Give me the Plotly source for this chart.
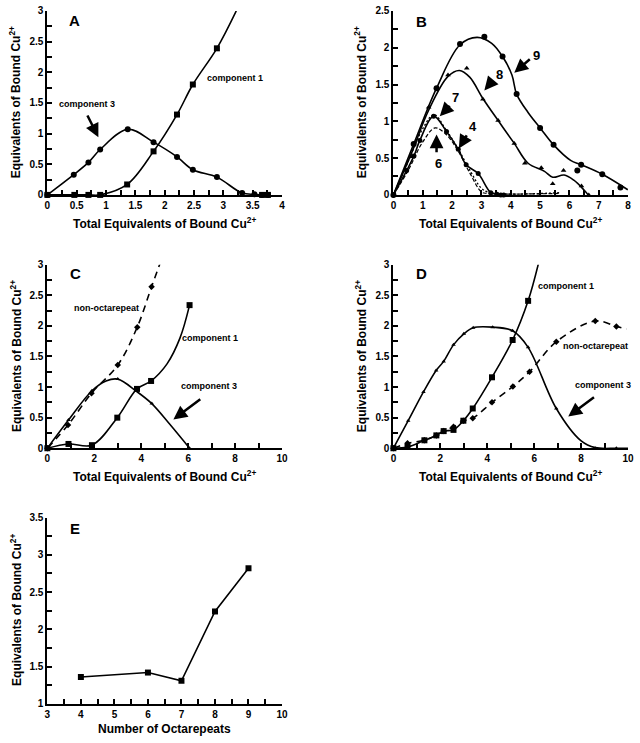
import plotly.graph_objects as go
from plotly.subplots import make_subplots

# ---------- panel A ----------
A_c3_x = [0, 0.45, 0.70, 0.90, 1.37, 1.81, 2.21, 2.48, 2.89, 3.32, 3.53, 3.66, 3.76]
A_c3_y = [0, 0.33, 0.53, 0.74, 1.07, 0.86, 0.62, 0.41, 0.29, 0.03, 0.01, 0, 0]
A_c1_x = [0, 0.46, 0.70, 0.90, 1.36, 1.81, 2.21, 2.48, 2.89, 3.66, 3.76]
A_c1_y = [0, 0, 0, 0, 0.17, 0.71, 1.31, 1.80, 2.39, 0, 0]
A_c1_line_x = [0, 0.46, 0.70, 0.90, 1.36, 1.81, 2.21, 2.48, 2.89, 3.22]
A_c1_line_y = [0, 0, 0, 0, 0.17, 0.71, 1.31, 1.80, 2.39, 3.0]

# ---------- panel B ----------
B9_x = [0, 0.69, 1.47, 2.27, 3.1, 3.72, 4.2, 5.0, 5.46, 6.27, 6.4, 7.12, 7.74]
B9_y = [0, 0.69, 1.45, 2.05, 2.15, 1.88, 1.37, 0.91, 0.68, 0.33, 0.41, 0.28, 0.10]
B9_line_x = [0, 0.69, 1.47, 2.27, 2.85, 3.35, 3.72, 4.04, 4.2, 4.59, 5.0, 5.46, 6.04, 6.4, 7.12, 7.99]
B9_line_y = [0, 0.69, 1.45, 2.04, 2.14, 2.06, 1.88, 1.63, 1.37, 1.12, 0.91, 0.68, 0.47, 0.41, 0.28, 0.07]
B8_x = [0, 0.6, 1.2, 1.86, 2.5, 3.05, 3.57, 4.12, 4.48, 5.04, 5.43, 5.80, 6.41, 6.66]
B8_y = [0, 0.52, 1.19, 1.63, 1.72, 1.30, 1.01, 0.70, 0.43, 0.37, 0.15, 0.33, 0.12, 0]
B8_line_x = [0, 0.6, 1.2, 1.86, 2.25, 2.6, 3.05, 3.57, 4.12, 4.59, 5.15, 5.43, 5.82, 6.15, 6.49, 6.64]
B8_line_y = [0, 0.55, 1.15, 1.61, 1.69, 1.6, 1.31, 1.01, 0.70, 0.43, 0.32, 0.24, 0.27, 0.20, 0.07, 0.0]
B4_x = A_c3_x
B4_y = A_c3_y
B6_x = [0, 0.5, 1.0, 1.42, 1.8, 2.2, 2.6, 3.0, 3.2, 5.65]
B6_y = [0, 0.33, 0.72, 0.91, 0.82, 0.6, 0.3, 0.04, 0.02, 0.02]
B7_x = [0, 0.5, 1.0, 1.38, 1.8, 2.2, 2.6, 3.0, 3.3, 5.65]
B7_y = [0, 0.45, 0.9, 1.09, 0.88, 0.63, 0.34, 0.09, 0.03, 0.03]

# ---------- panel C ----------
C_non_x = [0, 0.88, 1.88, 3.0, 3.83, 4.44]
C_non_y = [0, 0.38, 0.90, 1.36, 1.98, 2.64]
C_non_line_x = [0, 0.88, 1.88, 3.0, 3.83, 4.44, 4.8]
C_non_line_y = [0, 0.38, 0.90, 1.36, 1.98, 2.64, 3.02]
C_c1_x = [0, 0.9, 1.9, 2.98, 3.82, 4.42, 6.06]
C_c1_y = [0, 0.07, 0.05, 0.50, 0.97, 1.10, 2.34]
C_c1_line_x = [0, 0.9, 1.9, 2.98, 3.82, 4.42, 5.1, 5.65, 6.06]
C_c1_line_y = [0, 0.07, 0.05, 0.50, 0.97, 1.10, 1.38, 1.8, 2.34]
C_c3_x = [0, 0.9, 1.9, 3.0, 4.45, 6.06]
C_c3_y = [0, 0.46, 0.94, 1.13, 0.73, 0]
C_c3_line_x = [0, 0.9, 1.9, 2.5, 3.0, 3.8, 4.45, 5.2, 6.06]
C_c3_line_y = [0, 0.46, 0.94, 1.1, 1.13, 0.93, 0.73, 0.4, 0.0]

# ---------- panel D ----------
D_c3_x = [0, 0.63, 1.28, 1.82, 2.14, 2.56, 3.0, 3.4, 4.23, 5.08, 5.74, 6.94, 8.6, 9.5]
D_c3_y = [0, 0.45, 0.92, 1.27, 1.42, 1.69, 1.87, 1.97, 1.98, 1.92, 1.65, 0.65, 0, 0]
D_c3_line_x = [0, 0.63, 1.28, 1.82, 2.14, 2.56, 3.0, 3.4, 4.23, 5.08, 5.74, 6.94, 8.0, 8.6, 9.5, 10]
D_c3_line_y = [0, 0.45, 0.92, 1.27, 1.42, 1.69, 1.87, 1.97, 1.98, 1.92, 1.65, 0.65, 0.12, 0.01, 0, 0]
D_c1_x = [0, 0.6, 1.32, 1.83, 2.14, 2.56, 2.98, 3.38, 4.2, 5.08, 5.74]
D_c1_y = [0, 0.02, 0.13, 0.21, 0.28, 0.30, 0.45, 0.65, 1.16, 1.77, 2.41]
D_c1_line_x = D_c1_x + [6.2]
D_c1_line_y = D_c1_y + [3.05]
D_non_x = [0, 0.6, 1.32, 1.83, 2.14, 2.56, 2.98, 3.38, 4.2, 5.09, 5.8, 6.94, 8.6, 9.5]
D_non_y = [0, 0.08, 0.13, 0.21, 0.28, 0.35, 0.45, 0.49, 0.75, 1.01, 1.25, 1.74, 2.08, 1.99]
D_non_line_x = D_non_x + [9.93]
D_non_line_y = D_non_y + [1.95]

# ---------- panel E ----------
E_x = [4, 6, 7, 8, 9]
E_y = [1.36, 1.42, 1.31, 2.24, 2.82]

FONT = "Liberation Sans, Arial, sans-serif"
W, H = 640, 743


def px_x(p):
    return p / W


def px_y(p):
    return 1 - p / H


fig = make_subplots(rows=3, cols=2, specs=[[{}, {}], [{}, {}], [{}, None]])


def line(x, y, row, col, dash="solid", width=1.6, shape="spline"):
    fig.add_trace(go.Scatter(x=x, y=y, mode="lines", line=dict(color="black", width=width, dash=dash, shape=shape),
                             showlegend=False, hoverinfo="skip"), row=row, col=col)


def pts(x, y, row, col, symbol, size):
    fig.add_trace(go.Scatter(x=x, y=y, mode="markers", marker=dict(color="black", symbol=symbol, size=size),
                             cliponaxis=False, showlegend=False), row=row, col=col)


# A
line(A_c3_x, A_c3_y, 1, 1)
line(A_c1_line_x, A_c1_line_y, 1, 1)
pts(A_c3_x, A_c3_y, 1, 1, "circle", 6)
pts(A_c1_x, A_c1_y, 1, 1, "square", 6)

# B
line(B9_line_x, B9_line_y, 1, 2)
line(B8_line_x, B8_line_y, 1, 2)
line(B4_x, B4_y, 1, 2)
line(B6_x, B6_y, 1, 2, dash="4px,2px", width=1.2)
line(B7_x, B7_y, 1, 2, dash="2px,2px", width=1.3)
pts(B9_x, B9_y, 1, 2, "circle", 6)
pts(B8_x, B8_y, 1, 2, "triangle-up", 5)
pts(B4_x, B4_y, 1, 2, "circle", 5)

# C
line(C_non_line_x, C_non_line_y, 2, 1, dash="7px,5px")
line(C_c1_line_x, C_c1_line_y, 2, 1)
line(C_c3_line_x, C_c3_line_y, 2, 1)
pts(C_non_x, C_non_y, 2, 1, "diamond", 5)
pts(C_c3_x, C_c3_y, 2, 1, "triangle-up", 4)
pts(C_c1_x, C_c1_y, 2, 1, "square", 6)

# D
line(D_non_line_x, D_non_line_y, 2, 2, dash="7px,5px")
line(D_c1_line_x, D_c1_line_y, 2, 2)
line(D_c3_line_x, D_c3_line_y, 2, 2)
pts(D_non_x, D_non_y, 2, 2, "diamond", 5)
pts(D_c3_x, D_c3_y, 2, 2, "triangle-up", 4)
pts(D_c1_x, D_c1_y, 2, 2, "square", 6)

# E
line(E_x, E_y, 3, 1, shape="linear")
pts(E_x, E_y, 3, 1, "square", 6)

left = [px_x(45), px_x(283)]
right = [px_x(396), px_x(634)]
rowA = [px_y(192), px_y(5)]
rowC = [px_y(449.5), px_y(263)]
rowE = [px_y(709.3), px_y(520)]

axcommon = dict(showgrid=False, zeroline=False, showline=True, linecolor="black", linewidth=2,
                ticks="inside", ticklen=5, tickwidth=1.5, tickcolor="black", ticklabeloverflow="allow",
                tickfont=dict(family=FONT, size=10, color="black", weight="bold"))


def minor(d):
    return dict(ticks="inside", dtick=d, ticklen=5, tickwidth=1.5, tickcolor="black")


axes = {
    "xaxis": dict(domain=left, range=[0, 4], dtick=0.5, minor=minor(0.25), anchor="y"),
    "yaxis": dict(domain=rowA, range=[0, 3], dtick=0.5, minor=minor(0.25), anchor="x"),
    "xaxis2": dict(domain=right, range=[0, 8], dtick=1, minor=minor(0.5), anchor="y2"),
    "yaxis2": dict(domain=rowA, range=[0, 2.5], dtick=0.5, minor=minor(0.25), anchor="x2"),
    "xaxis3": dict(domain=left, range=[0, 10], dtick=2, minor=minor(1), anchor="y3"),
    "yaxis3": dict(domain=rowC, range=[0, 3], dtick=0.5, minor=minor(0.25), anchor="x3"),
    "xaxis4": dict(domain=right, range=[0, 10], dtick=2, minor=minor(1), anchor="y4"),
    "yaxis4": dict(domain=rowC, range=[0, 3], dtick=0.5, minor=minor(0.25), anchor="x4"),
    "xaxis5": dict(domain=left, range=[3, 10], dtick=1, minor=minor(0.5), anchor="y5"),
    "yaxis5": dict(domain=rowE, range=[1, 3.5], dtick=0.5, minor=minor(0.25), anchor="x5"),
}
for k, v in axes.items():
    v.update(axcommon)
    fig.layout[k].update(v)

ann = []


def txt(t, x, y, ax_id, size=9):
    ann.append(dict(text="<b>%s</b>" % t, x=x, y=y, xref="x" + ax_id, yref="y" + ax_id, showarrow=False,
                    font=dict(family=FONT, size=size, color="black")))


def arrow(x, y, ax, ay, ax_id):
    ann.append(dict(text="", x=x, y=y, ax=ax, ay=ay, xref="x" + ax_id, yref="y" + ax_id,
                    axref="x" + ax_id, ayref="y" + ax_id, showarrow=True, arrowhead=2, arrowsize=1.1,
                    arrowwidth=2.5, arrowcolor="black"))


def paper(t, px, py, angle=0, size=12):
    ann.append(dict(text="<b>%s</b>" % t, x=px_x(px), y=px_y(py), xref="paper", yref="paper", showarrow=False,
                    textangle=angle, xanchor="center", yanchor="middle",
                    font=dict(family=FONT, size=size, color="black")))


# panel letters
txt("A", 0.47, 2.85, "", 15)
txt("B", 0.97, 2.36, "2", 15)
txt("C", 1.19, 2.86, "3", 15)
txt("D", 1.18, 2.86, "4", 15)
txt("E", 3.83, 3.35, "5", 15)

# A labels
txt("component 1", 3.19, 1.91, "")
txt("component 3", 0.67, 1.49, "")
arrow(0.87, 0.94, 0.67, 1.32, "")

# B labels
txt("9", 4.89, 1.9, "2", 13)
arrow(4.12, 1.66, 4.7, 1.86, "2")
txt("8", 3.6, 1.64, "2", 13)
arrow(3.1, 1.42, 3.42, 1.57, "2")
txt("7", 2.12, 1.33, "2", 13)
arrow(1.58, 1.07, 1.97, 1.23, "2")
txt("4", 2.7, 0.93, "2", 13)
arrow(2.23, 0.63, 2.53, 0.83, "2")
txt("6", 1.53, 0.42, "2", 13)
arrow(1.47, 0.82, 1.47, 0.56, "2")

# C labels
txt("non-octarepeat", 2.52, 2.29, "3")
txt("component 1", 6.93, 1.81, "3")
txt("component 3", 6.87, 1.01, "3")
arrow(5.37, 0.47, 6.58, 0.82, "3")

# D labels
txt("component 1", 7.34, 2.65, "4")
txt("non-octarepeat", 8.6, 1.67, "4")
txt("component 3", 8.92, 1.04, "4")
arrow(7.45, 0.52, 8.61, 0.85, "4")

# axis titles
xt = "Total Equivalents of Bound Cu<sup>2+</sup>"
yt = "Equivalents of Bound Cu<sup>2+</sup>"
paper(xt, 164, 221)
paper(xt, 515, 221)
paper(xt, 164, 478)
paper(xt, 515, 478)
paper("Number of Octarepeats", 164, 735)
paper(yt, 13, 98, -90)
paper(yt, 363, 98, -90)
paper(yt, 13, 356, -90)
paper(yt, 363, 356, -90)
paper(yt, 13, 614, -90)

fig.update_layout(width=W, height=H, margin=dict(l=0, r=0, t=0, b=0), plot_bgcolor="white",
                  paper_bgcolor="white", annotations=ann, showlegend=False,
                  font=dict(family=FONT, color="black"))

# drop the browser's default 8px body margin so the figure fills the window
fig.write_html("out.html", config={"displayModeBar": False},
               post_script="document.body.style.margin='0';")
